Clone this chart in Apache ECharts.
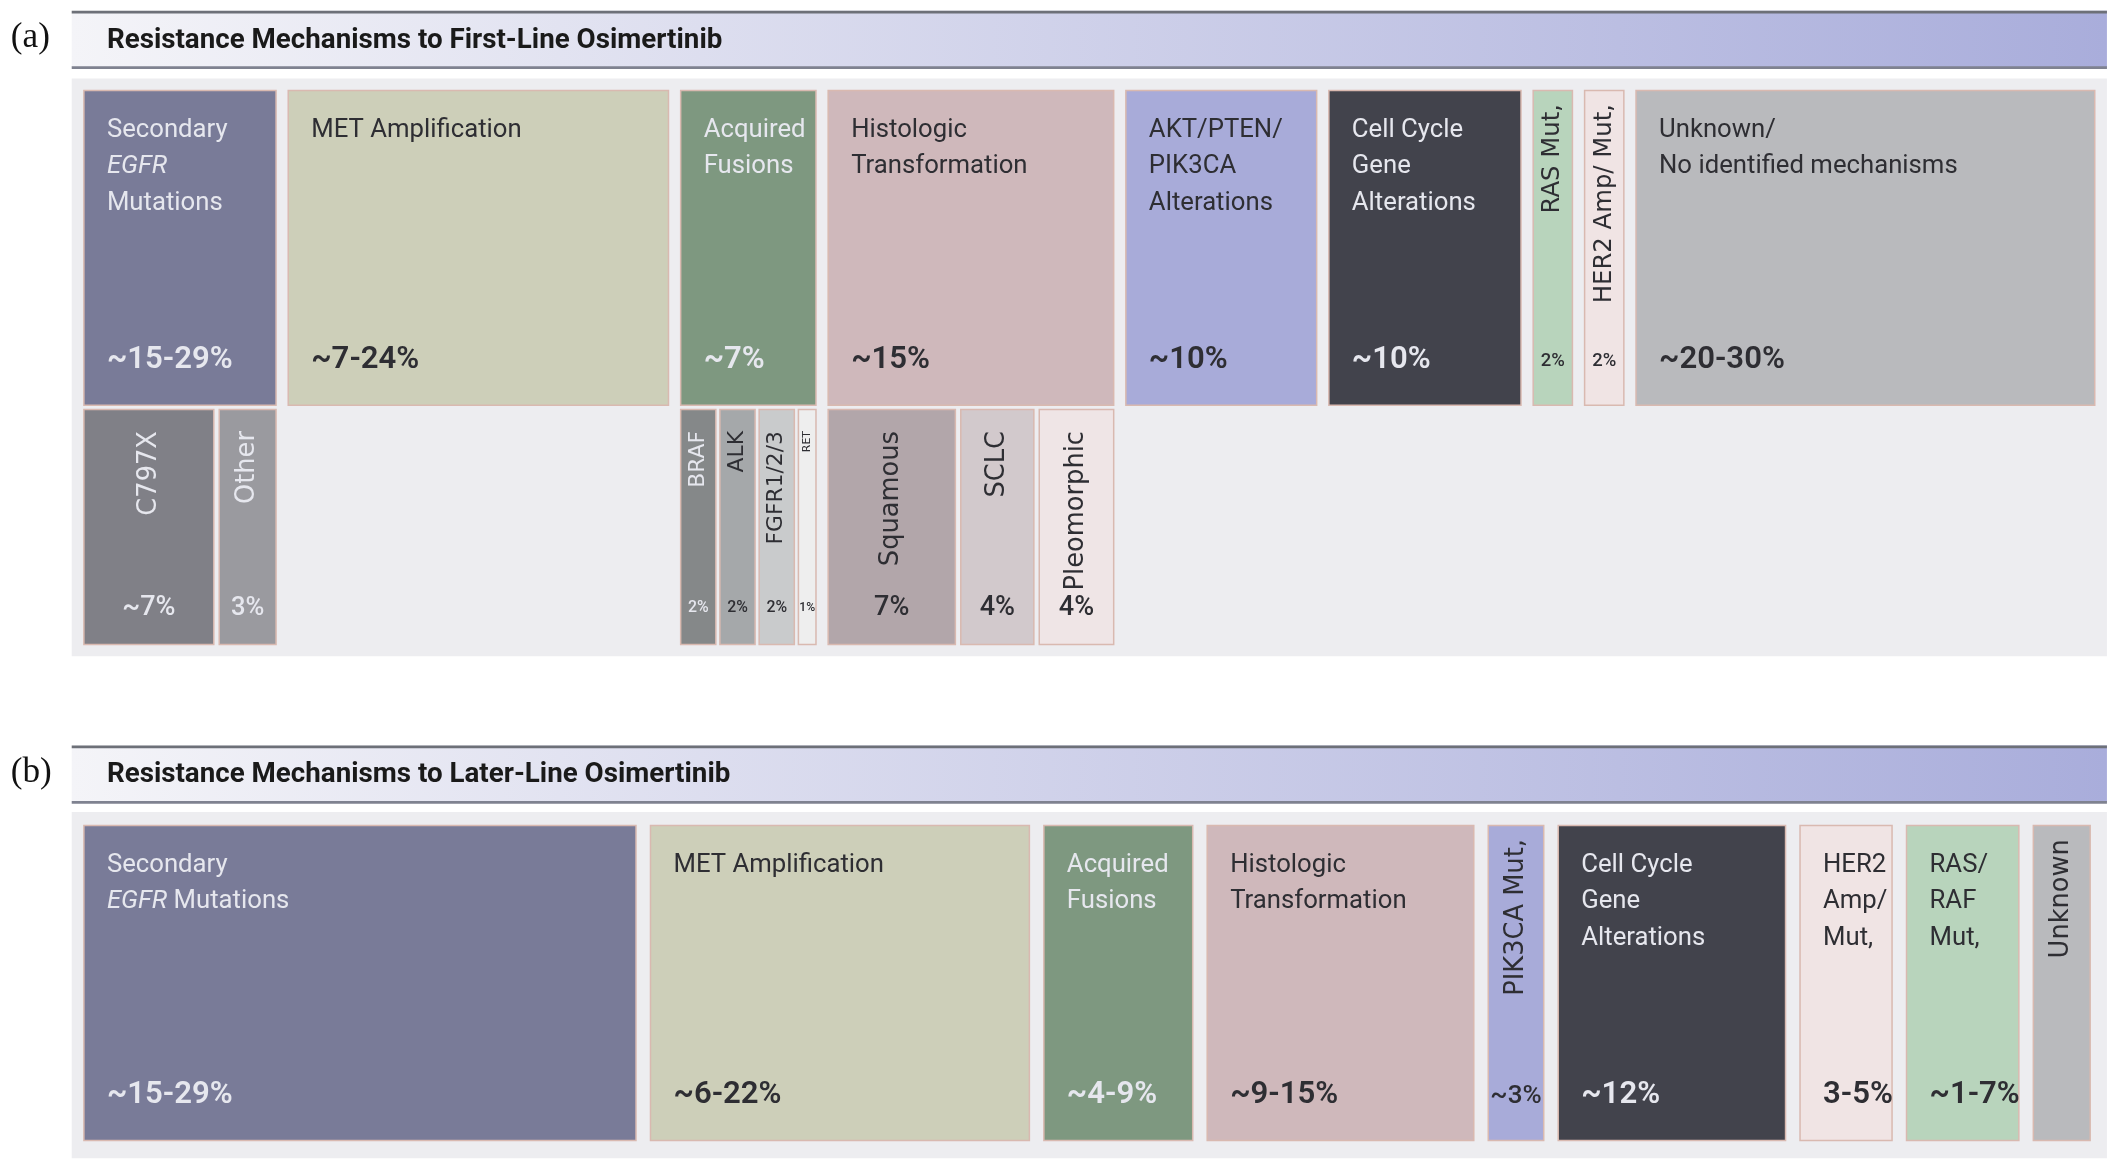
<!DOCTYPE html>
<html>
<head>
<meta charset="utf-8">
<script src="https://cdn.jsdelivr.net/npm/echarts@6/dist/echarts.min.js"></script>
<style>
  html, body { margin: 0; padding: 0; background: #fff; }
  #chart { width: 2111px; height: 1162px; }
</style>
</head>
<body>
<div id="chart"></div>
<script>
// 数据: (a) 一线奥希替尼耐药机制
const aTopNames = ['Secondary\n{i|EGFR}\nMutations', 'MET Amplification', 'Acquired\nFusions', 'Histologic\nTransformation',
  'AKT/PTEN/\nPIK3CA\nAlterations', 'Cell Cycle\nGene\nAlterations', 'RAS Mut,', 'HER2 Amp/ Mut,', 'Unknown/\nNo identified mechanisms']
const aTopPcts = ['~15-29%', '~7-24%', '~7%', '~15%', '~10%', '~10%', '2%', '2%', '~20-30%']
const aTopSpans = [142, 281, 100, 211, 141, 142, 29, 29, 339]
const aTopColors = ['#797b98', '#cdcfb9', '#7e9880', '#cfb8bb', '#a8abd9', '#42434c', '#b8d4bc', '#f0e4e4', '#b9babd']

// 子类 (挂在父类下面)
const aSubParent = [0, 0, 2, 2, 2, 2, 3, 3, 3]
const aSubNames = ['C797X', 'Other', 'BRAF', 'ALK', 'FGFR1/2/3', 'RET', 'Squamous', 'SCLC', 'Pleomorphic']
const aSubPcts = ['~7%', '3%', '2%', '2%', '2%', '1%', '7%', '4%', '4%']
const aSubSpans = [96, 42, 26, 26, 26, 13, 94, 54, 55]
const aSubColors = ['#808087', '#9a9a9f', '#858889', '#a5a8aa', '#c9cbcc', '#eeeeee', '#b2a6aa', '#d2c9cc', '#efe5e6']

// 数据: (b) 后线奥希替尼耐药机制
const bNames = ['Secondary\n{i|EGFR} Mutations', 'MET Amplification', 'Acquired\nFusions', 'Histologic\nTransformation',
  'PIK3CA Mut,', 'Cell Cycle\nGene\nAlterations', 'HER2\nAmp/\nMut,', 'RAS/\nRAF\nMut,', 'Unknown']
const bPcts = ['~15-29%', '~6-22%', '~4-9%', '~9-15%', '~3%', '~12%', '3-5%', '~1-7%', '']
const bSpans = [408, 280, 110, 197, 41, 168, 68, 83, 42]
const bColors = ['#797b98', '#cdcfb9', '#7e9880', '#cfb8bb', '#a8abd9', '#42434c', '#f0e4e4', '#b8d4bc', '#b9babd']

const S = 2111 / 1560
const darkFill = ['#797b98', '#7e9880', '#42434c', '#808087', '#9a9a9f', '#858889']
const FONT = 'Roboto, "Open Sans", sans-serif'

// 按宽度依次排布
function layout(spans, start, gap) {
  let x = start
  return spans.map(w => { const r = [x, w]; x += w + gap; return r })
}

const items = []
layout(aTopSpans, 62, 9).forEach((p, i) => items.push({ value: [p[0], 67, p[1], 233], name: aTopNames[i], pct: aTopPcts[i], color: aTopColors[i], kind: 'top' }))
const topPos = layout(aTopSpans, 62, 9)
const groups = {}
aSubParent.forEach((par, i) => { (groups[par] = groups[par] || []).push(i) })
Object.keys(groups).forEach(par => {
  const idx = groups[par]
  const gap = par == 2 ? 3 : 4
  layout(idx.map(i => aSubSpans[i]), topPos[par][0], gap).forEach((p, k) => {
    const i = idx[k]
    items.push({ value: [p[0], 303, p[1], 174], name: aSubNames[i], pct: aSubPcts[i], color: aSubColors[i], kind: 'sub' })
  })
})
layout(bSpans, 62, 10.7).forEach((p, i) => items.push({ value: [p[0], 611, p[1], 233], name: bNames[i], pct: bPcts[i], color: bColors[i], kind: 'top' }))

function renderItem(params, api) {
  const it = items[params.dataIndex]
  const [x, y, w, h] = it.value
  const p0 = api.coord([x, y])
  const sz = api.size([w, h])
  const dark = darkFill.includes(it.color)
  const txt = dark ? '#e6e7ee' : '#2e2e33'
  const children = [{
    type: 'rect',
    shape: { x: p0[0], y: p0[1], width: sz[0], height: sz[1] },
    style: { fill: it.color, stroke: '#d9b9b0', lineWidth: 1.5 }
  }]
  const vertical = it.kind === 'sub' || w < 50
  if (vertical) {
    children.push({
      type: 'text', x: p0[0] + sz[0] / 2, y: p0[1] + (it.kind === 'sub' ? 16 : 10) * S, rotation: Math.PI / 2,
      style: { text: it.name, fill: txt, fontFamily: '"DejaVu Sans", sans-serif', fontSize: Math.min(19, w * 0.62) * S, align: 'right', verticalAlign: 'middle' }
    })
    const pf = it.kind === 'sub' ? Math.max(9, Math.min(20, w * 0.45)) : Math.min(20, w * 0.47)
    children.push({
      type: 'text', x: p0[0] + sz[0] / 2, y: p0[1] + (it.kind === 'sub' ? 147 : 200) * S,
      style: { text: it.pct, fill: txt, fontFamily: FONT, fontSize: pf * S, fontWeight: 500, align: 'center', verticalAlign: 'middle' }
    })
  } else {
    children.push({
      type: 'text', x: p0[0] + 17 * S, y: p0[1] + 16 * S,
      style: {
        text: it.name, fill: txt, fontFamily: FONT, fontSize: 19 * S, lineHeight: 27 * S, verticalAlign: 'top',
        rich: { i: { fontStyle: 'italic', fontFamily: FONT, fontSize: 19 * S, lineHeight: 27 * S, fill: txt } }
      }
    })
    children.push({
      type: 'text', x: p0[0] + 17 * S, y: p0[1] + 199 * S,
      style: { text: it.pct, fill: txt, fontFamily: FONT, fontSize: 23 * S, fontWeight: 600, verticalAlign: 'middle' }
    })
  }
  return { type: 'group', children }
}

function header(y, label, title) {
  return [
    { type: 'rect', shape: { x: 53 * S, y: y * S, width: 1504 * S, height: 42 * S }, z: 1,
      style: { fill: { type: 'linear', x: 0, y: 0, x2: 1, y2: 0, colorStops: [{ offset: 0, color: '#f4f4f8' }, { offset: 1, color: '#a9addb' }] }, stroke: null } },
    { type: 'rect', shape: { x: 53 * S, y: y * S, width: 1504 * S, height: 2 * S }, z: 2, style: { fill: '#6d7078' } },
    { type: 'rect', shape: { x: 53 * S, y: (y + 41) * S, width: 1504 * S, height: 2 * S }, z: 2, style: { fill: '#7f8290' } },
    { type: 'text', x: 79 * S, y: (y + 22) * S, z: 3, style: { text: title, fill: '#1a1a1a', fontFamily: FONT, fontWeight: 'bold', fontSize: 20.5 * S, verticalAlign: 'middle' } },
    { type: 'text', x: 8 * S, y: (y + 20) * S, z: 3, style: { text: label, fill: '#111', fontFamily: '"Liberation Serif", serif', fontSize: 26 * S, verticalAlign: 'middle' } }
  ]
}

const chart = echarts.init(document.getElementById('chart'))
chart.setOption({
  animation: false,
  backgroundColor: '#ffffff',
  grid: { left: 0, right: 0, top: 0, bottom: 0 },
  xAxis: { type: 'value', min: 0, max: 1560, show: false },
  yAxis: { type: 'value', min: 0, max: 860, inverse: true, show: false },
  graphic: [
    { type: 'rect', shape: { x: 53 * S, y: 58 * S, width: 1504 * S, height: 427 * S }, z: -10, style: { fill: '#ededf0' } },
    { type: 'rect', shape: { x: 53 * S, y: 600 * S, width: 1504 * S, height: 256 * S }, z: -10, style: { fill: '#ededf0' } },
    ...header(8, '(a)', 'Resistance Mechanisms to First-Line Osimertinib'),
    ...header(551, '(b)', 'Resistance Mechanisms to Later-Line Osimertinib')
  ],
  series: [{
    type: 'custom',
    renderItem,
    data: items.map(d => d.value),
    silent: true
  }]
})
</script>
</body>
</html>
